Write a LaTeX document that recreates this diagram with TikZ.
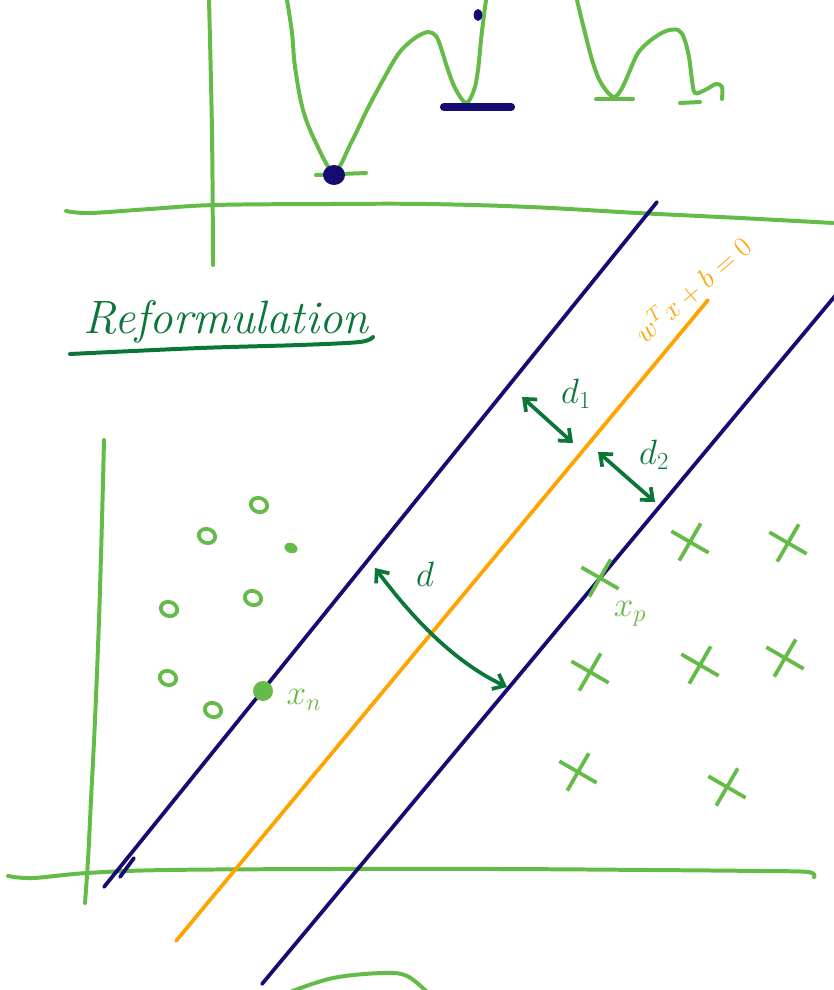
\RequirePackage{fix-cm}
\documentclass[tikz,border=0pt]{standalone}
\usepackage{tikz}
\usetikzlibrary{positioning, arrows.meta, shapes.geometric, shapes.misc}
\definecolor{leaf}{RGB}{101,187,72}
\definecolor{moss}{RGB}{10,118,56}
\definecolor{ink}{RGB}{22,10,115}
\definecolor{amber}{RGB}{255,163,0}

\begin{document}
\begin{tikzpicture}[x=0.03cm, y=-0.03cm,
  axis/.style={draw=leaf, line width=3.4pt, line cap=round, line join=round},
  margin/.style={draw=ink, line width=3.2pt, line cap=round},
  hyper/.style={draw=amber, line width=3.2pt, line cap=round},
  gap/.style={draw=moss, line width=3.2pt, line cap=round, {Straight Barb[length=3mm,width=5mm]}-{Straight Barb[length=3mm,width=5mm]}},
  omark/.style={ellipse, draw=leaf, line width=3.2pt, minimum width=0.5cm, minimum height=0.42cm, inner sep=0pt, rotate=-20},
  xmark/.style={cross out, draw=leaf, line width=3.2pt, minimum size=0.8cm, inner sep=0pt, rotate=15},
  lab/.style={text=moss, font=\fontsize{30}{30}\selectfont},
  ptlab/.style={text=leaf, font=\fontsize{30}{30}\selectfont}]
\useasboundingbox (0,0) rectangle (833,990);

% loss surface sketch on top
\draw[axis] plot[smooth, tension=0.6] coordinates {(66,211) (90,213) (150,209) (215,205) (330,204) (426,204) (530,207) (638,213) (740,218) (833,223)};
\draw[axis] plot[smooth, tension=0.6] coordinates {(209,0) (212,133) (213,265)};
\draw[axis] plot[smooth, tension=0.55] coordinates {(287,0) (292,33) (295,67) (303,110) (316,143) (334,172) (351,143) (367,110) (383,80) (399,53) (415,38) (428,32) (436,36) (441,48) (447,67) (455,88) (466,103) (474,90) (478,70) (481,40) (484,15) (486,0)};
\draw[axis] plot[smooth, tension=0.55] coordinates {(577,0) (585,33) (593,63) (601,83) (613,97) (621,90) (628,75) (638,53) (651,40) (666,31) (678,30) (684,38) (689,57) (692,80) (695,93) (705,90) (716,84) (722,87) (722,99)};
\draw[axis] (316,175) -- (366,173);
\draw[axis] (596,99) -- (633,99);
\draw[axis] (680,103) -- (700,102);
\node[ellipse, fill=ink, minimum width=0.66cm, minimum height=0.6cm, inner sep=0pt] (gmin) at (334,175) {};
\node[ellipse, fill=ink, minimum width=0.26cm, minimum height=0.36cm, inner sep=0pt] (lmin) at (478,15) {};
\draw[draw=ink, line width=7pt, line cap=round] (444,107) -- (511,107);

% title
\node[text=moss, font=\fontsize{40}{40}\selectfont\itshape] (title) at (226,322) {Reformulation};
\draw[draw=moss, line width=3.4pt, line cap=round] plot[smooth] coordinates {(70,354) (200,348) (300,345) (360,342) (373,337)};

% data axes
\draw[axis] plot[smooth, tension=0.6] coordinates {(104,440) (102,520) (99,620) (95,720) (91,800) (88,860) (85,903)};
\draw[axis] plot[smooth, tension=0.6] coordinates {(8,876) (33,878) (87,873) (167,870) (333,869) (500,869) (650,870) (760,871) (808,872) (814,877)};

% separating lines
\coordinate (ml1) at (104,887);
\coordinate (ml2) at (657,202);
\coordinate (hp1) at (176,941);
\coordinate (hp2) at (708,300);
\coordinate (mr1) at (262,984);
\coordinate (mr2) at (840,290);
\draw[margin] (ml1) -- (ml2);
\draw[hyper] (hp1) -- (hp2);
\draw[margin] (mr1) -- (mr2);
\draw[margin] (120,877) -- (134,858);
\node[text=amber, font=\fontsize{24}{24}\selectfont, rotate=41] (plane) at (692,289) {$w^{T}x+b=0$};

% class o
\node[omark] (o1) at (259,505) {};
\node[omark] (o2) at (207,536) {};
\node[omark] (o3) at (253,598) {};
\node[omark] (o4) at (169,609) {};
\node[omark] (o5) at (168,678) {};
\node[omark] (o6) at (213,710) {};
\node[ellipse, fill=leaf, minimum width=0.4cm, minimum height=0.3cm, inner sep=0pt, rotate=-20] (o7) at (291,548) {};
\node[circle, fill=leaf, minimum size=0.6cm, inner sep=0pt] (xn) at (263,691) {};
\node[ptlab] (xnl) at (304,700) {$x_n$};

% class x
\node[xmark] (x1) at (600,578) {};
\node[xmark] (x2) at (690,542) {};
\node[xmark] (x3) at (788,543) {};
\node[xmark] (x4) at (590,672) {};
\node[xmark] (x5) at (700,665) {};
\node[xmark] (x6) at (785,658) {};
\node[xmark] (x7) at (578,772) {};
\node[xmark] (x8) at (727,787) {};
\node[ptlab] (xpl) at (630,614) {$x_p$};

% distances
\coordinate (d1a) at (522,397);
\coordinate (d1b) at (573,443);
\coordinate (d2a) at (598,452);
\coordinate (d2b) at (655,502);
\coordinate (da) at (375,568);
\coordinate (db) at (507,687);
\draw[gap] (d1a) -- (d1b);
\draw[gap] (d2a) -- (d2b);
\draw[gap] (da) .. controls (408,612) and (450,660) .. (db);
\node[lab] (d1l) at (576,394) {$d_1$};
\node[lab] (d2l) at (654,455) {$d_2$};
\node[lab] (dl) at (425,574) {$d$};

% next sketch, cut off
\draw[axis] plot[smooth, tension=0.6] coordinates {(290,992) (333,978) (383,973) (407,976) (427,992)};
\end{tikzpicture}
\end{document}
